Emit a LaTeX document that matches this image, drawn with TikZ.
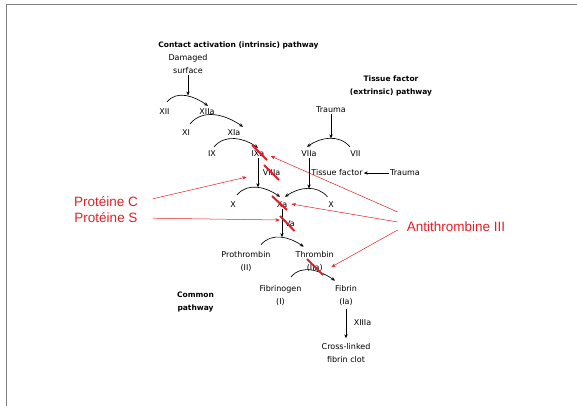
\documentclass[tikz,border=0pt]{standalone}
\usepackage{fontspec}
\usetikzlibrary{arrows.meta}
\newfontfamily\factorfont{DejaVu Sans}
\newfontfamily\notefont{Liberation Sans}
\definecolor{atred}{RGB}{228,30,36}
\tikzset{
  factor/.style={font={\factorfont\fontsize{8}{13}\selectfont}, inner sep=1pt, align=center},
  heading/.style={font={\factorfont\bfseries\fontsize{7.5}{13}\selectfont}, inner sep=1pt, align=center},
  inhibitor/.style={font={\notefont\fontsize{13.5}{15}\selectfont}, text=atred, inner sep=1pt},
  conv/.style={-{Stealth[length=4pt,width=3.4pt]}, line width=0.65pt},
  block/.style={-{Stealth[length=4.5pt,width=3.4pt]}, draw=atred, line width=0.5pt},
  strike/.style={draw=atred, line width=2pt},
}
\begin{document}
\begin{tikzpicture}[x=1pt,y=-1pt]
\useasboundingbox (0,0) rectangle (577,406);
\draw[black!50, line width=1pt] (6.5,406) |- (577,5);

% intrinsic pathway
\node[heading] (intr) at (238.5,45) {Contact activation (intrinsic) pathway};
\node[factor] (damaged) at (188,64.5) {Damaged\\surface};
\node[factor] (xii) at (164.5,112) {XII};
\node[factor] (xiia) at (207,112) {XIIa};
\node[factor] (xi) at (186,133) {XI};
\node[factor] (xia) at (234,133) {XIa};
\node[factor] (ix) at (212,154) {IX};
\node[factor] (ixa) at (258,154) {IXa};
\node[factor] (viiia) at (271.6,173) {VIIIa};

% extrinsic pathway
\node[heading] (extr) at (391,85.5) {Tissue factor\\(extrinsic) pathway};
\node[factor] (trauma) at (331,110) {Trauma};
\node[factor] (viia) at (309,154) {VIIa};
\node[factor] (vii) at (355.5,154) {VII};
\node[factor] (tf) at (337,173) {Tissue factor};
\node[factor] (trauma2) at (405,173) {Trauma};

% common pathway
\node[factor] (xl) at (233,205) {X};
\node[factor] (xa) at (282,205) {Xa};
\node[factor] (xr) at (331,205) {X};
\node[factor] (va) at (290,224) {Va};
\node[factor] (proth) at (246,255) {Prothrombin};
\node[factor] (proth2) at (246,268) {(II)};
\node[factor] (thromb) at (314.7,255) {Thrombin};
\node[factor] (iia) at (314.7,268) {(IIa)};
\node[factor] (fibgen) at (280.5,289) {Fibrinogen};
\node[factor] (fibgen2) at (280.5,302) {(I)};
\node[factor] (fibrin) at (346,289) {Fibrin};
\node[factor] (fibrin2) at (346,302) {(Ia)};
\node[factor] (xiiia) at (362.5,323) {XIIIa};
\node[factor] (clot) at (346,353) {Cross-linked\\fibrin clot};
\node[heading] (common) at (195.5,302) {Common\\pathway};

% inhibitors
\node[inhibitor] (protc) at (106,202) {Protéine C};
\node[inhibitor] (prots) at (106,218) {Protéine S};
\node[inhibitor] (at3) at (456,227) {Antithrombine III};

% activations
\draw[conv] ([shift={(2.5,-6)}]xii.north) to[out=50,in=145] coordinate[pos=.45] (k1) ([shift={(1,-2)}]xiia.north);
\draw[conv] (damaged.south) -- (damaged.south |- k1);
\draw[conv] ([shift={(4,-5)}]xi.north) to[out=50,in=145] ([shift={(9,-2)}]xia.north);
\draw[conv] ([shift={(2,-3)}]ix.north) to[out=50,in=145] ([shift={(0,-2)}]ixa.north);
\draw[conv] ([shift={(-5.5,-3)}]vii.north) to[out=130,in=35] coordinate[pos=.45] (k4) ([shift={(-2,-3)}]viia.north);
\draw[conv] (trauma.south) -- (trauma.south |- k4);
\draw[conv] (trauma2.west) -- (tf.east);
\draw[conv] ([shift={(4,-6)}]xl.north) to[out=50,in=145] coordinate[pos=.45] (k5) ([shift={(-2,-4)}]xa.north);
\draw[conv] ([shift={(-3.5,-4)}]xr.north) to[out=130,in=35] coordinate[pos=.45] (k6) ([shift={(3,-4)}]xa.north);
\draw[conv] (ixa.south) -- (ixa.south |- k5);
\draw[conv] (viia.south) -- (viia.south |- k6);
\draw[conv] ([shift={(15,-6)}]proth.north) to[out=50,in=145] coordinate[pos=.45] (k7) ([shift={(-11,-4)}]thromb.north);
\draw[conv] (xa.south) -- (xa.south |- k7);
\draw[conv] ([shift={(10.5,-7)}]fibgen.north) to[out=50,in=145] ([shift={(-11,-4)}]fibrin.north);
\draw[conv, shorten <=2pt, shorten >=4pt] (fibrin2.south) -- (clot.north);

% inhibition
\draw[strike] ([shift={(-6,-9)}]ixa.center) -- ([shift={(9,6)}]ixa.center);
\draw[strike] ([shift={(-7.6,-8)}]viiia.center) -- ([shift={(7.4,7)}]viiia.center);
\draw[strike] ([shift={(-10,-9)}]xa.center) -- ([shift={(5,5)}]xa.center);
\draw[strike] ([shift={(-10,-8)}]va.center) -- ([shift={(4.5,7)}]va.center);
\draw[strike] ([shift={(-7.7,-9)}]iia.center) -- ([shift={(8.3,7)}]iia.center);
\draw[block, shorten <=14pt] (protc.east) -- ([shift={(-15,4)}]viiia.west);
\draw[block, shorten <=14pt] (prots.east) -- ([shift={(-4,-4)}]va.west);
\draw[block] ([shift={(-8,-15)}]at3.west) -- ([shift={(5,2)}]ixa.east);
\draw[block] ([shift={(-8,-5)}]at3.west) -- ([shift={(3,-1)}]xa.east);
\draw[block] ([shift={(-8,3)}]at3.west) -- ([shift={(7.5,-1)}]iia.east);
\end{tikzpicture}
\end{document}
